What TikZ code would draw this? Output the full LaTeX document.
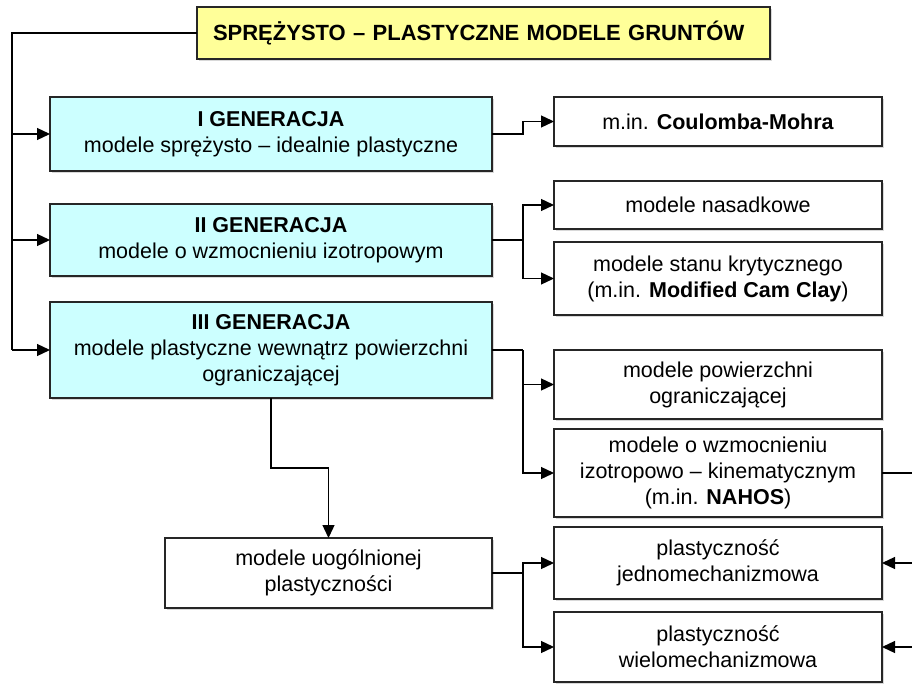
\documentclass[tikz,border=0pt]{standalone}
\usepackage{fontspec}
\setmainfont{Liberation Sans}
\usetikzlibrary{arrows.meta,shadows}
\newcommand\boxfont{\fontsize{21.5}{26}\selectfont}
\definecolor{genfill}{HTML}{CCFFFF}
\definecolor{titlefill}{HTML}{FFFF99}
\begin{document}
\begin{tikzpicture}[x=1pt,y=-1pt,
  box/.style={draw=black!85, line width=1.3pt, fill=white, inner sep=0pt, outer sep=0pt,
    align=center, font=\boxfont,
    drop shadow={shadow xshift=1.6pt, shadow yshift=-1.6pt, opacity=0.3}},
  genbox/.style={box, fill=genfill, minimum width=442pt},
  sidebox/.style={box, minimum width=328pt},
  link/.style={line width=1.3pt, draw=black},
  arr/.style={link, -{Triangle[length=13pt,width=12pt]}}]
  % canvas
  \fill[white] (0,0) rectangle (912,684);
  \useasboundingbox (0,0) rectangle (912,684);

  % header
  \node[box, fill=titlefill, minimum width=573pt, minimum height=52pt,
        text width=541pt, align=left, inner xsep=16pt,
        font=\fontsize{22}{26}\selectfont\bfseries] (title) at (483.5,33)
        {SPRĘŻYSTO – PLASTYCZNE MODELE GRUNTÓW};

  % generations
  \node[genbox, minimum height=74pt] (g1) at (271,134)
    {\textbf{I GENERACJA}\\modele sprężysto – idealnie plastyczne};
  \node[genbox, minimum height=72pt] (g2) at (271,240)
    {\textbf{II GENERACJA}\\modele o wzmocnieniu izotropowym};
  \node[genbox, minimum height=96pt] (g3) at (271,350)
    {\textbf{III GENERACJA}\\modele plastyczne wewnątrz powierzchni\\ograniczającej};

  % model families
  \node[sidebox, minimum height=49pt] (cm) at (718,121.5)
    {m.in. \textbf{Coulomba-Mohra}};
  \node[sidebox, minimum height=48pt] (nas) at (718,205)
    {modele nasadkowe};
  \node[sidebox, minimum height=73pt] (kryt) at (718,278.5)
    {modele stanu krytycznego\\(m.in. \textbf{Modified Cam Clay})};
  \node[sidebox, minimum height=69pt] (pow) at (718,384.5)
    {modele powierzchni\\ograniczającej};
  \node[sidebox, minimum height=88pt] (nahos) at (718,473)
    {modele o wzmocnieniu\\izotropowo – kinematycznym\\(m.in. \textbf{NAHOS})};
  \node[box, minimum width=327pt, minimum height=70pt] (uog) at (328.5,573)
    {modele uogólnionej\\plastyczności};
  \node[sidebox, minimum height=72pt] (jedno) at (718,563)
    {plastyczność\\jednomechanizmowa};
  \node[sidebox, minimum height=70pt] (wielo) at (718,647)
    {plastyczność\\wielomechanizmowa};

  % left spine from the header
  \coordinate (spine) at (12,33);
  \draw[link] (title.west) -- (spine) -- (12,350);
  \draw[arr] (12,134) -- (g1.west);
  \draw[arr] (12,240) -- (g2.west);
  \draw[arr] (12,350) -- (g3.west);

  % generation I
  \draw[arr] (g1.east) -- (523,134) -- (523,121.5) -- (cm.west);

  % generation II
  \draw[link] (g2.east) -- (523,240);
  \draw[arr] (523,240) |- (nas.west);
  \draw[arr] (523,240) |- (kryt.west);

  % generation III
  \draw[link] (g3.east) -- (523,350);
  \draw[arr] (523,350) |- (pow.west);
  \draw[arr] (523,350) |- (nahos.west);
  \draw[arr] (g3.south) -- (271,468) -- (328.5,468) -- (uog.north);

  % generalised plasticity
  \draw[link] (uog.east) -- (523,573);
  \draw[arr] (523,573) |- (jedno.west);
  \draw[arr] (523,573) |- (wielo.west);

  % links running off the right edge
  \coordinate (rout) at (912,473);
  \coordinate (rin1) at (912,563);
  \coordinate (rin2) at (912,647);
  \draw[link] (nahos.east) -- (rout);
  \draw[arr] (rin1) -- (jedno.east);
  \draw[arr] (rin2) -- (wielo.east);
\end{tikzpicture}
\end{document}
